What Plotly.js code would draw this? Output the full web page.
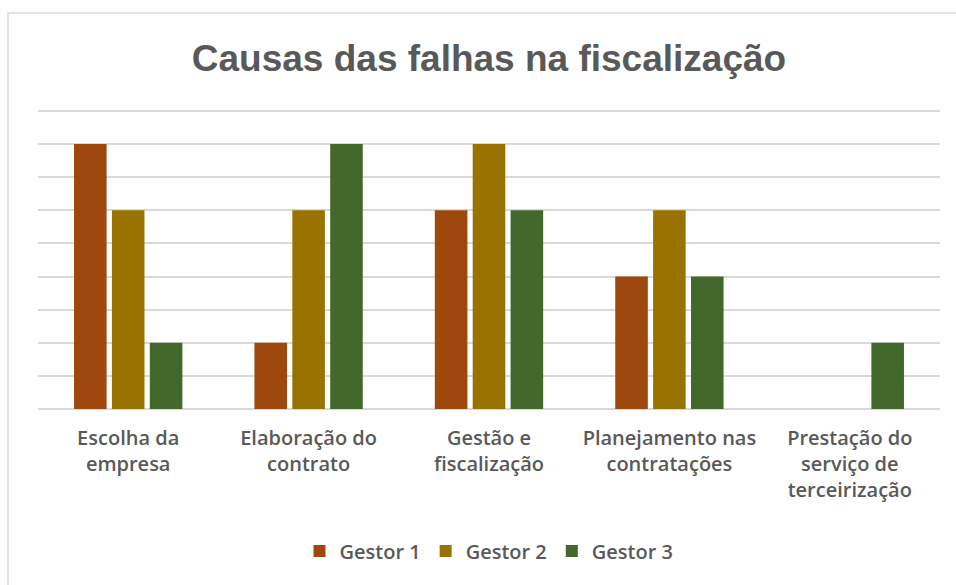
<!DOCTYPE html>
<html>
<head>
<meta charset="utf-8">
<script src="https://cdn.plot.ly/plotly-3.0.1.min.js"></script>
<style>html,body{margin:0;padding:0;background:#fff;}#chart{width:956px;height:585px;}</style>
</head>
<body>
<div id="chart"></div>
<script>
const categories = ["Escolha da<br>empresa", "Elaboração do<br>contrato", "Gestão e<br>fiscalização", "Planejamento nas<br>contratações", "Prestação do<br>serviço de<br>terceirização"];
const seriesNames = ["Gestor 1", "Gestor 2", "Gestor 3"];
const gestor1 = [8, 2, 6, 4, 0];
const gestor2 = [6, 6, 8, 6, 0];
const gestor3 = [2, 8, 6, 4, 2];
const colors = ["#9E480E", "#997300", "#43682B"];

const values = [gestor1, gestor2, gestor3];
const traces = values.map((v, i) => ({
  type: "bar",
  name: seriesNames[i],
  x: categories,
  y: v,
  marker: {color: colors[i], line: {width: 0}},
  hoverinfo: "x+y+name"
}));

const L = 38, R = 940, T = 109, B = 409;
const W = 956, H = 585;
const yMax = 9.06;
const scale = (B - T) / yMax;
const layout = {
  width: W, height: H,
  margin: {l: L, r: W - R, t: T, b: H - B, pad: 0},
  paper_bgcolor: "#ffffff",
  plot_bgcolor: "#ffffff",
  title: {text: "Causas das falhas na fiscalização", font: {family: "Liberation Sans, Arial, sans-serif", size: 37, color: "#595959", weight: "bold"}, x: 0.5, xref: "paper", xanchor: "center", y: 1 - 58/H, yanchor: "middle"},
  barmode: "group",
  bargap: 0.37,
  bargroupgap: 0.14,
  xaxis: {
    tickfont: {family: "Open Sans, sans-serif", size: 20, color: "#595959", weight: 600},
    ticklabelstandoff: 15,
    showline: false, ticks: "", showgrid: false, zeroline: false, fixedrange: true
  },
  yaxis: {
    range: [0, yMax], tickvals: [1,2,3,4,5,6,7,8,9], showticklabels: false, showgrid: true,
    gridcolor: "#D9D9D9", gridwidth: 2, zeroline: true, zerolinecolor: "#D9D9D9", zerolinewidth: 2,
    showline: false, ticks: "", fixedrange: true
  },
  showlegend: true,
  legend: {orientation: "h", x: 0.5, xanchor: "center", y: -(551 - B)/(B - T), yanchor: "middle",
    font: {family: "Open Sans, sans-serif", size: 20, color: "#595959", weight: 600}, itemwidth: 30, traceorder: "normal"},
  shapes: [{
    type: "rect", xref: "paper", yref: "paper",
    x0: (8 - L)/(R - L), x1: (W + 5 - L)/(R - L),
    y0: (B - (H + 5))/(B - T), y1: (B - 13)/(B - T),
    line: {color: "#D9D9D9", width: 1.5}, fillcolor: "rgba(0,0,0,0)", layer: "below"
  }]
};
Plotly.newPlot("chart", traces, layout, {displayModeBar: false, staticPlot: true});
</script>
</body>
</html>
